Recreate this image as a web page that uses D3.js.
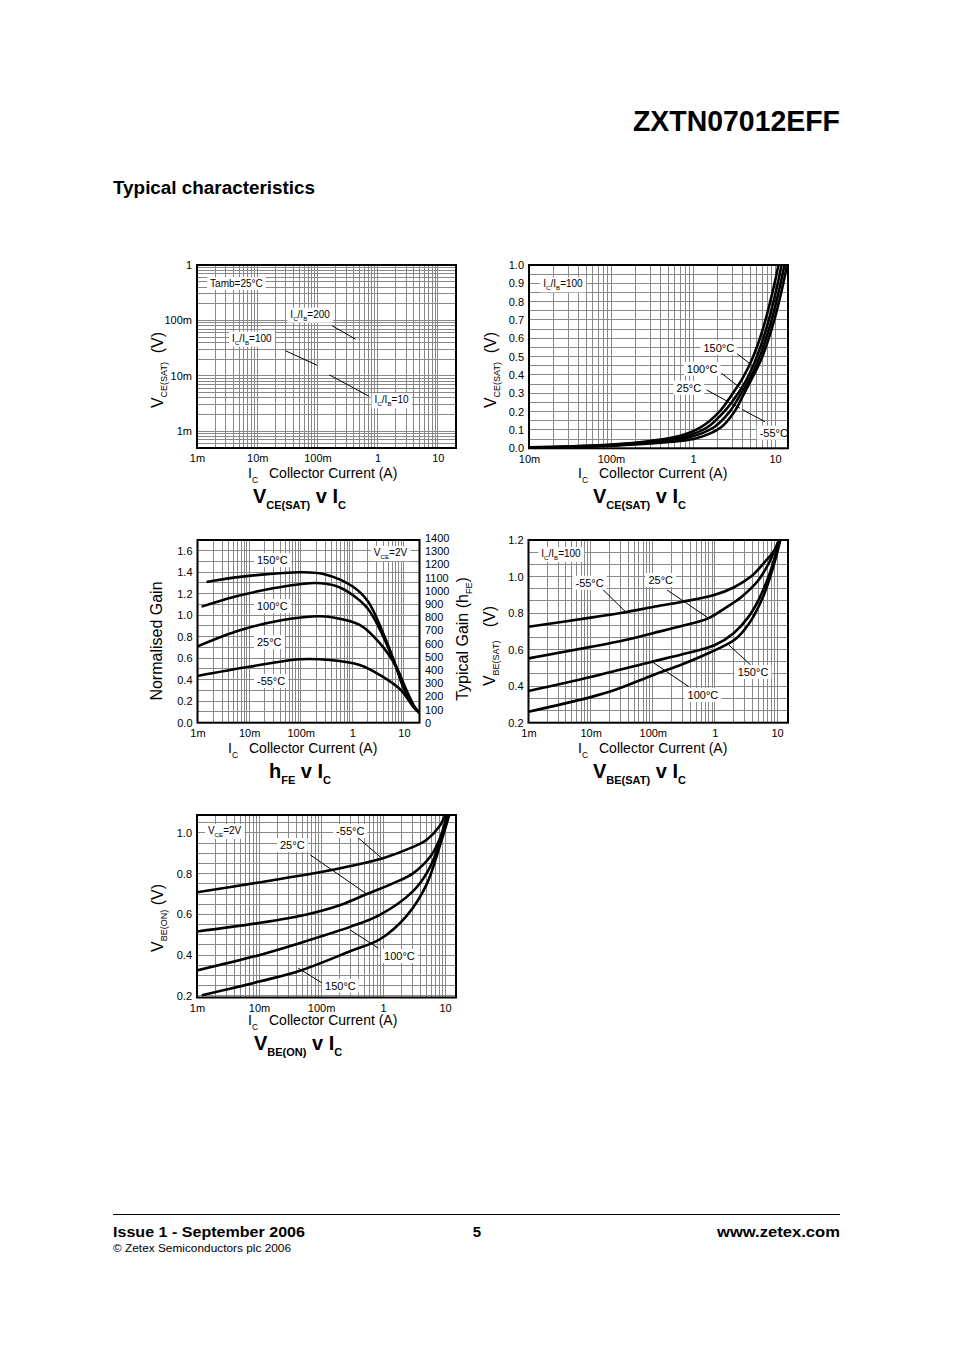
<!DOCTYPE html>
<html>
<head>
<meta charset="utf-8">
<script src="https://cdn.jsdelivr.net/npm/d3@7"></script>
<style>
body { margin: 0; background: #fff; }
text { font-family: "Liberation Sans", Arial, sans-serif; fill: #000; white-space: pre; }
.narrow { font-family: "Liberation Sans Narrow", "Liberation Sans", Arial, sans-serif; font-weight: bold; }
</style>
</head>
<body>
<svg id="page" width="954" height="1351"></svg>
<script>
// ---- tick labels ----
var decadeVals = [0.001, 0.01, 0.1, 1, 10];
var decadeText = ["1m", "10m", "100m", "1", "10"];
var logYVals = [0.001, 0.01, 0.1, 1];
var logYText = ["1m", "10m", "100m", "1"];
var vceLinVals = [0, 0.1, 0.2, 0.3, 0.4, 0.5, 0.6, 0.7, 0.8, 0.9, 1.0];
var gainVals = [0, 0.2, 0.4, 0.6, 0.8, 1.0, 1.2, 1.4, 1.6];
var hfeVals = [0, 100, 200, 300, 400, 500, 600, 700, 800, 900, 1000, 1100, 1200, 1300, 1400];
var vbeSatVals = [0.2, 0.4, 0.6, 0.8, 1.0, 1.2];
var vbeOnVals = [0.2, 0.4, 0.6, 0.8, 1.0];

// ---- VCE(SAT) v IC, linear, IC/IB=100  [IC (A), V] ----
var vceSat150 = [[0.01,0.006],[0.03,0.01],[0.1,0.02],[0.3,0.04],[0.7,0.068],[1.25,0.115],[2.1,0.2],[2.95,0.29],[4,0.38],[5.3,0.49],[7,0.64],[9.2,0.84],[11,1.0],[12,1.1]];
var vceSat100 = [[0.01,0.005],[0.03,0.009],[0.1,0.018],[0.3,0.035],[0.8,0.065],[1.5,0.115],[2.4,0.2],[3.3,0.28],[4.5,0.375],[6,0.50],[8,0.667],[10.4,0.867],[12,1.0],[13,1.1]];
var vceSat25 = [[0.01,0.005],[0.03,0.008],[0.1,0.016],[0.3,0.032],[0.9,0.06],[1.8,0.115],[2.8,0.2],[3.7,0.285],[5,0.385],[6.6,0.508],[8.8,0.677],[11.3,0.87],[13,1.0],[14,1.1]];
var vceSatM55 = [[0.01,0.004],[0.03,0.007],[0.1,0.014],[0.3,0.026],[1.1,0.055],[2.2,0.115],[3.2,0.2],[4.1,0.29],[5.5,0.40],[7,0.50],[9.6,0.686],[12.2,0.871],[14,1.0],[15,1.1]];

// ---- hFE v IC, normalised gain ----
var gain150 = [[0.0015,1.31],[0.005,1.35],[0.02,1.38],[0.1,1.40],[0.3,1.38],[1,1.27],[2,1.13],[3.9,0.84],[7.1,0.52],[9.6,0.34],[12.6,0.21],[20,0.09]];
var gain100 = [[0.0012,1.08],[0.005,1.17],[0.014,1.22],[0.05,1.27],[0.19,1.30],[0.5,1.27],[1,1.19],[2,1.06],[3.9,0.81],[7.1,0.51],[9.6,0.335],[12.6,0.21],[20,0.09]];
var gain25 = [[0.001,0.71],[0.0066,0.86],[0.045,0.955],[0.2,0.99],[0.4,0.982],[1.39,0.91],[3.4,0.74],[7.1,0.52],[11,0.31],[16,0.15],[20,0.09]];
var gainM55 = [[0.001,0.435],[0.01,0.52],[0.096,0.59],[0.366,0.583],[1.39,0.537],[3.4,0.444],[8.9,0.30],[15,0.15],[20,0.09]];

// ---- VBE(SAT) v IC ----
var vbeSatM55 = [[0.001,0.725],[0.01,0.775],[0.036,0.805],[0.1,0.833],[0.3,0.862],[1,0.90],[2,0.94],[3.8,1.0],[6,1.07],[9.3,1.15],[11,1.21]];
var vbeSat25 = [[0.001,0.552],[0.01,0.615],[0.036,0.653],[0.1,0.69],[0.3,0.73],[0.78,0.771],[1.5,0.83],[2.7,0.89],[5,0.98],[7.3,1.07],[11,1.21]];
var vbeSat100 = [[0.001,0.374],[0.01,0.45],[0.097,0.534],[0.3,0.575],[1,0.625],[2,0.69],[3.4,0.775],[5,0.87],[7.3,1.0],[11.3,1.21]];
var vbeSat150 = [[0.001,0.26],[0.01,0.34],[0.025,0.38],[0.1,0.46],[0.3,0.52],[0.78,0.58],[2.1,0.655],[3.5,0.74],[5.8,0.88],[8.3,1.03],[11.5,1.21]];

// ---- VBE(ON) v IC ----
var vbeOnM55 = [[0.001,0.709],[0.01,0.757],[0.1,0.808],[0.3,0.838],[1,0.876],[3,0.93],[5,0.965],[8,1.03],[10.5,1.1]];
var vbeOn25 = [[0.001,0.516],[0.01,0.558],[0.059,0.6],[0.2,0.645],[0.55,0.70],[1.5,0.755],[3,0.80],[6,0.89],[8.3,0.975],[11,1.1]];
var vbeOn100 = [[0.001,0.325],[0.01,0.40],[0.059,0.47],[0.3,0.54],[0.89,0.598],[3,0.712],[5,0.8],[7.3,0.908],[11.5,1.1]];
var vbeOn150 = [[0.0012,0.203],[0.01,0.27],[0.047,0.325],[0.3,0.42],[0.89,0.478],[2.4,0.593],[5,0.745],[8.3,0.94],[12,1.1]];

var svg = d3.select("#page");

// "I_C/I_B=100" -> subscripts
function rich(t, str, size, sub, drop) {
    var re = /_\{([^}]*)\}|_(.)/g, last = 0, m, low = false;
    function push(s, isSub) {
        if (!s) return;
        var ts = t.append("tspan").text(s).attr("font-size", isSub ? sub : size);
        if (isSub != low) { ts.attr("dy", isSub ? drop : -drop); low = isSub; }
    }
    while ((m = re.exec(str))) {
        push(str.slice(last, m.index), false);
        push(m[1] || m[2], true);
        last = re.lastIndex;
    }
    push(str.slice(last), false);
    return t;
}

function logGrid(dom) {
    var v = [];
    for (var d = Math.floor(Math.log10(dom[0])); d <= Math.ceil(Math.log10(dom[1])); d++)
        for (var k = 1; k < 10; k++) {
            var x = k * Math.pow(10, d);
            if (x >= dom[0] * 0.999 && x <= dom[1] * 1.001) v.push(x);
        }
    return v;
}
function linGrid(lo, hi, step) {
    var v = [], n = Math.round((hi - lo) / step);
    for (var i = 0; i <= n; i++) v.push(lo + i * step);
    return v;
}
function snap(p) { return Math.floor(p) + 0.5; }

function chart(c) {
    var g = svg.append("g");
    var x = d3.scaleLog().domain(c.xDomain).range([c.left, c.right]);
    var y = (c.yLog ? d3.scaleLog() : d3.scaleLinear()).domain(c.yDomain).range([c.bottom, c.top]);

    g.append("clipPath").attr("id", "clip" + c.id).append("rect")
        .attr("x", c.left).attr("y", c.top).attr("width", c.right - c.left).attr("height", c.bottom - c.top);

    // grid
    g.append("g").selectAll("line").data(logGrid(c.xDomain)).join("line")
        .attr("x1", function(d) { return snap(x(d)); }).attr("x2", function(d) { return snap(x(d)); })
        .attr("y1", c.top).attr("y2", c.bottom)
        .attr("stroke", "#888").attr("stroke-width", 1);
    g.append("g").selectAll("line").data(c.yGrid).join("line")
        .attr("y1", function(d) { return snap(y(d)); }).attr("y2", function(d) { return snap(y(d)); })
        .attr("x1", c.left).attr("x2", c.right)
        .attr("stroke", "#888").attr("stroke-width", 1);

    // labels (white boxes first)
    var notes = g.append("g");
    c.notes.forEach(function(n) {
        var t = notes.append("text").attr("x", x(n.x)).attr("y", y(n.y));
        rich(t, n.t, n.size, n.size * 0.62, n.size * 0.3);
        var b = t.node().getBBox();
        notes.insert("rect", "text").attr("x", b.x - 3).attr("y", b.y - 1)
            .attr("width", b.width + 6).attr("height", b.height + 2).attr("fill", "#fff");
    });

    // curves
    var line = d3.line().x(function(d) { return x(d[0]); }).y(function(d) { return y(d[1]); })
        .curve(d3.curveCatmullRom.alpha(0.5));
    g.append("g").attr("clip-path", "url(#clip" + c.id + ")")
        .selectAll("path").data(c.curves).join("path")
        .attr("d", line).attr("fill", "none").attr("stroke", "#000").attr("stroke-width", 2.6);

    // leaders
    g.append("g").selectAll("line").data(c.leaders).join("line")
        .attr("x1", function(d) { return x(d[0]); }).attr("y1", function(d) { return y(d[1]); })
        .attr("x2", function(d) { return x(d[2]); }).attr("y2", function(d) { return y(d[3]); })
        .attr("stroke", "#000").attr("stroke-width", 1);

    g.node().appendChild(notes.node());

    // frame
    g.append("rect").attr("x", c.left).attr("y", c.top)
        .attr("width", c.right - c.left).attr("height", c.bottom - c.top)
        .attr("fill", "none").attr("stroke", "#000").attr("stroke-width", 2);

    // axes
    var ax = g.append("g").attr("transform", "translate(0," + c.bottom + ")")
        .call(d3.axisBottom(x).tickValues(c.xTicks)
            .tickFormat(function(d, i) { return c.xText[i]; }).tickSize(0).tickPadding(6.5));
    var ay = g.append("g").attr("transform", "translate(" + c.left + ",0)")
        .call(d3.axisLeft(y).tickValues(c.yTicks)
            .tickFormat(function(d, i) { return c.yText[i]; }).tickSize(0).tickPadding(5));
    [ax, ay].forEach(function(a) {
        a.select(".domain").remove();
        a.attr("font-family", null).attr("font-size", null);
        a.selectAll("text").attr("font-size", 11);
    });
    if (c.y2) {
        var y2 = d3.scaleLinear().domain(c.y2.domain).range(c.y2.range);
        var ar = g.append("g").attr("transform", "translate(" + c.right + ",0)")
            .call(d3.axisRight(y2).tickValues(c.y2.ticks).tickFormat(d3.format("d"))
                .tickSize(0).tickPadding(5.5));
        ar.select(".domain").remove();
        ar.attr("font-family", null).attr("font-size", null);
        ar.selectAll("text").attr("font-size", 11);
        rich(g.append("text").attr("transform", "translate(" + c.y2.tx + "," + c.y2.ty + ") rotate(-90)")
            .attr("text-anchor", "middle"), c.y2.title, 16, 9, 4);
    }

    // axis titles
    rich(g.append("text").attr("transform", "translate(" + c.ytx + "," + c.yty + ") rotate(-90)")
        .attr("text-anchor", "middle"), c.yTitle, 16, 9, 4);
    var xt = g.append("text").attr("y", c.xty);
    xt.append("tspan").attr("x", c.xtx).attr("font-size", 14).text("I");
    xt.append("tspan").attr("font-size", 8.5).attr("dy", 5).text("C");
    xt.append("tspan").attr("x", c.xtx + 21).attr("dy", -5).attr("font-size", 14).text("Collector Current (A)");

    // chart title
    rich(g.append("text").attr("x", c.tx).attr("y", c.ty).attr("font-weight", "bold"), c.title, 20, 11, 6);
}

var gridLog1 = logGrid([0.0005, 1]);

chart({
    id: 1, left: 197, right: 456, top: 265, bottom: 448,
    xDomain: [0.001, 20], yDomain: [0.0005, 1], yLog: true, yGrid: gridLog1,
    xTicks: decadeVals, xText: decadeText, yTicks: logYVals, yText: logYText,
    curves: [],
    notes: [
        { t: "Tamb=25°C", x: 0.00165, y: 0.40, size: 10 },
        { t: "I_C/I_B=200", x: 0.0355, y: 0.112, size: 10 },
        { t: "I_C/I_B=100", x: 0.00383, y: 0.0414, size: 10 },
        { t: "I_C/I_B=10", x: 0.89, y: 0.00318, size: 10 }
    ],
    leaders: [[0.176, 0.080, 0.43, 0.046], [0.0293, 0.0285, 0.099, 0.0155], [0.158, 0.0104, 0.716, 0.0043]],
    yTitle: "V_{CE(SAT)}  (V)", ytx: 163, yty: 370,
    xtx: 248, xty: 478, title: "V_{CE(SAT)} v I_C", tx: 253, ty: 503
});

chart({
    id: 2, left: 529, right: 788, top: 265, bottom: 448.3,
    xDomain: [0.01, 14.4], yDomain: [0, 1], yGrid: linGrid(0, 1, 0.05),
    xTicks: decadeVals.slice(1), xText: decadeText.slice(1),
    yTicks: vceLinVals, yText: vceLinVals.map(function(d) { return d.toFixed(1); }),
    curves: [vceSat150, vceSat100, vceSat25, vceSatM55],
    notes: [
        { t: "I_C/I_B=100", x: 0.0149, y: 0.878, size: 10 },
        { t: "150°C", x: 1.34, y: 0.527, size: 11 },
        { t: "100°C", x: 0.84, y: 0.412, size: 11 },
        { t: "25°C", x: 0.63, y: 0.309, size: 11 },
        { t: "-55°C", x: 6.5, y: 0.063, size: 11 }
    ],
    leaders: [[3.41, 0.518, 5.6, 0.442], [2.24, 0.409, 4.3, 0.309], [1.47, 0.318, 3.74, 0.219], [7.55, 0.145, 3.96, 0.212]],
    yTitle: "V_{CE(SAT)}  (V)", ytx: 496, yty: 370,
    xtx: 578, xty: 478, title: "V_{CE(SAT)} v I_C", tx: 593, ty: 503
});

chart({
    id: 3, left: 197.5, right: 419.5, top: 540, bottom: 722.7,
    xDomain: [0.001, 20], yDomain: [0, 1.7], yGrid: linGrid(0, 1.7, 0.1),
    xTicks: decadeVals, xText: decadeText,
    yTicks: gainVals, yText: gainVals.map(function(d) { return d.toFixed(1); }),
    y2: { domain: [0, 1400], range: [722.7, 538], ticks: hfeVals, title: "Typical Gain (h_{FE})", tx: 468, ty: 639 },
    curves: [gain150, gain100, gain25, gainM55],
    notes: [
        { t: "V_{CE}=2V", x: 2.6, y: 1.55, size: 10 },
        { t: "150°C", x: 0.0142, y: 1.476, size: 11 },
        { t: "100°C", x: 0.0142, y: 1.048, size: 11 },
        { t: "25°C", x: 0.0142, y: 0.713, size: 11 },
        { t: "-55°C", x: 0.0142, y: 0.351, size: 11 }
    ],
    leaders: [],
    yTitle: "Normalised Gain", ytx: 162, yty: 641,
    xtx: 228, xty: 753, title: "h_{FE} v I_C", tx: 269, ty: 778
});

chart({
    id: 4, left: 528.5, right: 788, top: 540, bottom: 722.7,
    xDomain: [0.001, 15], yDomain: [0.2, 1.2], yGrid: linGrid(0.2, 1.2, 0.2 / 3),
    xTicks: decadeVals, xText: decadeText,
    yTicks: vbeSatVals, yText: vbeSatVals.map(function(d) { return d.toFixed(1); }),
    curves: [vbeSatM55, vbeSat25, vbeSat100, vbeSat150],
    notes: [
        { t: "I_C/I_B=100", x: 0.0016, y: 1.107, size: 10 },
        { t: "-55°C", x: 0.0057, y: 0.944, size: 11 },
        { t: "25°C", x: 0.085, y: 0.959, size: 11 },
        { t: "150°C", x: 2.32, y: 0.456, size: 11 },
        { t: "100°C", x: 0.363, y: 0.33, size: 11 }
    ],
    leaders: [[0.015, 0.936, 0.036, 0.809], [0.17, 0.926, 0.8, 0.771], [1.68, 0.625, 3.77, 0.516], [0.097, 0.534, 0.38, 0.397]],
    yTitle: "V_{BE(SAT)}   (V)", ytx: 495, yty: 646,
    xtx: 578, xty: 753, title: "V_{BE(SAT)} v I_C", tx: 593, ty: 778
});

chart({
    id: 5, left: 197, right: 456, top: 815, bottom: 997.5,
    xDomain: [0.001, 15], yDomain: [0.192, 1.088], yGrid: linGrid(0.2, 1.05, 0.05),
    xTicks: decadeVals, xText: decadeText,
    yTicks: vbeOnVals, yText: vbeOnVals.map(function(d) { return d.toFixed(1); }),
    curves: [vbeOnM55, vbeOn25, vbeOn100, vbeOn150],
    notes: [
        { t: "V_{CE}=2V", x: 0.0015, y: 0.995, size: 10 },
        { t: "-55°C", x: 0.175, y: 0.99, size: 11 },
        { t: "25°C", x: 0.0218, y: 0.921, size: 11 },
        { t: "100°C", x: 1.04, y: 0.377, size: 11 },
        { t: "150°C", x: 0.116, y: 0.23, size: 11 }
    ],
    leaders: [[0.377, 0.982, 0.95, 0.876], [0.067, 0.892, 0.546, 0.70], [0.84, 0.434, 0.294, 0.524], [0.103, 0.264, 0.043, 0.336]],
    yTitle: "V_{BE(ON)} (V)", ytx: 163, yty: 918,
    xtx: 248, xty: 1025, title: "V_{BE(ON)} v I_C", tx: 254, ty: 1050
});

// page header / footer
svg.append("text").attr("class", "narrow").attr("x", 633).attr("y", 131).attr("font-size", 29)
    .attr("textLength", 207).attr("lengthAdjust", "spacingAndGlyphs").text("ZXTN07012EFF");
svg.append("text").attr("class", "narrow").attr("x", 113).attr("y", 194).attr("font-size", 18)
    .attr("textLength", 202).attr("lengthAdjust", "spacingAndGlyphs").text("Typical characteristics");
svg.append("line").attr("x1", 113).attr("x2", 840).attr("y1", 1214.5).attr("y2", 1214.5)
    .attr("stroke", "#000").attr("stroke-width", 1);
svg.append("text").attr("class", "narrow").attr("x", 113).attr("y", 1237).attr("font-size", 15)
    .attr("textLength", 192).attr("lengthAdjust", "spacingAndGlyphs").text("Issue 1 - September 2006");
svg.append("text").attr("class", "narrow").attr("x", 477).attr("y", 1237).attr("font-size", 15)
    .attr("text-anchor", "middle").text("5");
svg.append("text").attr("class", "narrow").attr("x", 717).attr("y", 1237).attr("font-size", 15)
    .attr("textLength", 123).attr("lengthAdjust", "spacingAndGlyphs").text("www.zetex.com");
svg.append("text").attr("x", 113).attr("y", 1252).attr("font-size", 10)
    .attr("font-family", "'Liberation Sans Narrow','Liberation Sans',Arial,sans-serif")
    .attr("textLength", 178).attr("lengthAdjust", "spacingAndGlyphs").text("© Zetex Semiconductors plc 2006");
</script>
</body>
</html>
